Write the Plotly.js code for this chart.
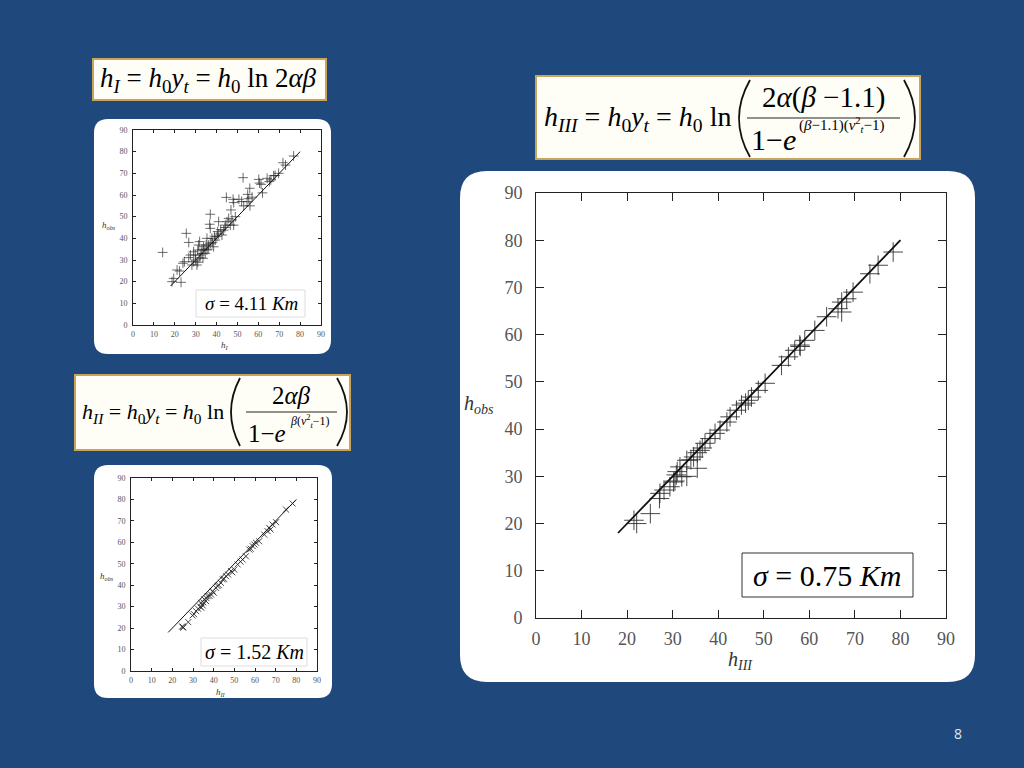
<!DOCTYPE html>
<html><head><meta charset="utf-8">
<script src="https://cdn.plot.ly/plotly-3.0.1.min.js"></script>
<style>html,body{margin:0;padding:0;background:#1F497D;overflow:hidden}#chart{width:1024px;height:768px}</style>
</head><body><div id="chart"></div>
<script>
// ---- data: model I (h_I vs h_obs) ----
const hI_x = [14.2,18.7,19.5,21.1,22.3,23.0,23.9,24.6,25.5,26.7,26.7,27.5,28.2,29.0,29.0,29.8,30.6,31.0,31.4,31.9,32.2,33.0,33.5,33.8,34.6,35.4,36.2,35.4,37.0,36.7,37.0,37.0,37.8,38.6,39.4,40.2,40.5,41.0,42.6,43.4,44.2,44.7,45.0,45.8,46.6,46.9,47.4,47.9,48.2,48.2,49.0,50.7,52.7,54.6,54.9,55.4,55.9,56.0,60.2,60.6,61.3,62.0,64.2,65.3,67.3,69.7,71.8,73.0,76.9,30.0,31.0,32.0,33.0,34.0,35.0,36.0,38.0,39.0,41.0,42.0,44.0,52.0,53.0,57.0,66.0,68.0];
const hI_obs = [33.5,20.0,21.5,25.4,24.9,19.7,28.5,29.2,42.3,38.1,31.1,32.3,27.7,29.2,33.8,32.3,27.7,34.6,36.9,38.5,32.3,34.6,30.8,36.1,33.1,34.6,36.9,40.0,37.7,46.5,44.6,51.1,40.0,36.1,39.2,40.8,43.1,47.7,41.5,43.8,46.1,58.9,47.7,49.2,46.1,53.1,48.5,58.0,56.5,46.1,50.0,58.0,68.0,56.9,60.3,58.3,63.1,55.0,67.2,65.5,64.9,61.0,67.7,66.2,68.9,70.0,74.9,73.8,78.0,30.0,29.0,31.0,33.0,35.0,37.0,35.0,38.0,41.0,42.0,44.0,45.0,57.0,55.0,59.0,67.0,69.0];
// ---- data: model II ----
const hII_x = [25.0,25.3,24.8,27.7,29.8,30.5,31.5,32.5,33.5,34.7,34.0,33.9,35.0,35.5,36.3,37.1,36.5,38.0,38.7,39.5,40.0,41.1,41.9,42.5,43.5,44.4,45.0,46.0,47.0,48.4,49.0,50.0,51.6,53.0,54.0,55.6,57.3,58.0,58.9,59.7,60.5,62.0,64.5,66.1,66.9,67.5,68.5,70.2,75.0,78.2];
const hII_obs = [20.5,20.2,20.8,22.8,25.9,26.5,27.9,29.0,30.0,30.6,29.5,31.8,32.0,33.4,32.6,34.9,34.0,35.0,35.7,37.2,36.5,38.8,39.6,40.0,41.1,42.7,43.0,44.2,45.0,46.6,46.0,47.3,49.7,51.0,52.0,53.5,56.6,57.0,58.2,59.0,59.8,60.5,63.6,65.2,66.7,66.0,68.3,69.4,75.3,78.1];
// ---- data: model III ----
const hIII_x = [22.1,21.5,25.1,27.1,27.2,28.1,29.4,30.2,30.8,32.0,33.1,35.4,31.6,33.1,34.6,35.4,36.0,37.1,38.2,39.3,40.4,41.9,42.6,44.0,45.1,46.6,47.3,48.8,50.3,53.9,55.4,56.8,57.9,59.0,61.2,63.8,66.3,67.1,67.1,68.2,69.6,73.3,75.1,78.4,30.5,31.0,34.0,36.5,46.0,58.0];
const hIII_obs = [20.0,20.7,22.1,25.3,26.4,27.1,27.8,28.8,30.3,29.9,30.0,31.7,32.0,33.4,34.1,35.0,35.5,37.0,38.0,39.1,39.8,41.5,42.6,44.0,45.1,46.1,46.8,48.2,49.7,53.5,55.3,56.7,57.8,58.8,60.9,63.8,65.5,64.8,66.9,67.6,69.0,72.9,74.7,77.5,29.0,31.0,33.5,36.0,45.5,57.5];
// ---- reference line ----
const lineX = [18, 80];
const lineY = [18, 80];
const tickVals = [0,10,20,30,40,50,60,70,80,90];

const W = 1024, H = 768;
const fx = x => x / W, fy = y => 1 - y / H;
const P = (x, y) => fx(x).toFixed(5) + ',' + fy(y).toFixed(5);
function rrect(x0, y0, x1, y1, r) {
  return 'M' + P(x0 + r, y0) + ' L' + P(x1 - r, y0) + ' Q' + P(x1, y0) + ' ' + P(x1, y0 + r) +
    ' L' + P(x1, y1 - r) + ' Q' + P(x1, y1) + ' ' + P(x1 - r, y1) +
    ' L' + P(x0 + r, y1) + ' Q' + P(x0, y1) + ' ' + P(x0, y1 - r) +
    ' L' + P(x0, y0 + r) + ' Q' + P(x0, y0) + ' ' + P(x0 + r, y0) + ' Z';
}
const serif = 'Liberation Serif, Times New Roman, serif';

function axis(d0, d1, isX, fontSize, tlen, anchor, standoff) {
  const dom = isX ? [fx(d0), fx(d1)] : [fy(d1), fy(d0)];
  return {
    domain: dom, range: [0, 90], tickvals: tickVals, ticktext: tickVals.map(String),
    ticks: 'inside', ticklen: tlen, tickwidth: 1, tickcolor: '#222',
    showline: true, linecolor: '#222', linewidth: 1, mirror: 'ticks',
    showgrid: false, zeroline: false, fixedrange: true, anchor: anchor,
    ticklabelstandoff: standoff,
    tickfont: { family: serif, size: fontSize, color: '#555' }
  };
}

const mk = (sym, size, w) => ({ symbol: sym, size: size, color: 'rgba(40,40,40,0.85)', line: { width: w, color: 'rgba(40,40,40,0.85)' } });
const traces = [
  { x: hI_x, y: hI_obs, xaxis: 'x', yaxis: 'y', type: 'scatter', mode: 'markers', marker: mk('cross-thin', 7, 0.8) },
  { x: lineX, y: lineY, xaxis: 'x', yaxis: 'y', type: 'scatter', mode: 'lines', line: { color: '#111', width: 1 } },
  { x: hII_x, y: hII_obs, xaxis: 'x2', yaxis: 'y2', type: 'scatter', mode: 'markers', marker: mk('x-thin', 6, 1) },
  { x: lineX, y: lineY, xaxis: 'x2', yaxis: 'y2', type: 'scatter', mode: 'lines', line: { color: '#111', width: 1 } },
  { x: hIII_x, y: hIII_obs, xaxis: 'x3', yaxis: 'y3', type: 'scatter', mode: 'markers', marker: mk('cross-thin', 14, 1) },
  { x: lineX, y: lineY, xaxis: 'x3', yaxis: 'y3', type: 'scatter', mode: 'lines', line: { color: '#111', width: 1.8 } }
];

const shapes = [];
const paperShape = o => Object.assign({ xref: 'paper', yref: 'paper' }, o);
// white panels
shapes.push(paperShape({ type: 'path', path: rrect(94, 119, 331, 354, 14), fillcolor: '#ffffff', line: { width: 0 }, layer: 'below' }));
shapes.push(paperShape({ type: 'path', path: rrect(94, 465, 332, 698, 14), fillcolor: '#ffffff', line: { width: 0 }, layer: 'below' }));
shapes.push(paperShape({ type: 'path', path: rrect(460, 171, 975, 682, 27), fillcolor: '#ffffff', line: { width: 0 }, layer: 'below' }));
// formula boxes
const boxStyle = { fillcolor: '#fffef6', line: { color: '#c9a45a', width: 2 }, layer: 'below' };
shapes.push(paperShape(Object.assign({ type: 'rect', x0: fx(93), x1: fx(326), y0: fy(59), y1: fy(100) }, boxStyle)));
shapes.push(paperShape(Object.assign({ type: 'rect', x0: fx(536), x1: fx(920), y0: fy(76), y1: fy(159) }, boxStyle)));
shapes.push(paperShape(Object.assign({ type: 'rect', x0: fx(75), x1: fx(350), y0: fy(375), y1: fy(450) }, boxStyle)));
// fraction bars
shapes.push(paperShape({ type: 'line', x0: fx(747), x1: fx(900), y0: fy(118), y1: fy(118), line: { color: '#222', width: 1 } }));
shapes.push(paperShape({ type: 'line', x0: fx(246), x1: fx(337), y0: fy(412), y1: fy(412), line: { color: '#222', width: 1 } }));
// big parentheses
const paren = (xe, xb, y0, y1) => paperShape({ type: 'path', path: 'M' + P(xe, y0) + ' Q' + P(xb, (y0 + y1) / 2) + ' ' + P(xe, y1), line: { color: '#111', width: 1.8 } });
shapes.push(paren(750, 728, 80, 157));
shapes.push(paren(904, 926, 80, 157));
shapes.push(paren(240, 222, 378, 446));
shapes.push(paren(337, 357, 378, 446));
// sigma boxes
shapes.push(paperShape({ type: 'rect', x0: fx(196), x1: fx(305), y0: fy(290), y1: fy(317), fillcolor: '#ffffff', line: { color: '#dddddd', width: 1 } }));
shapes.push(paperShape({ type: 'rect', x0: fx(201), x1: fx(307), y0: fy(638), y1: fy(666), fillcolor: '#ffffff', line: { color: '#dddddd', width: 1 } }));
shapes.push(paperShape({ type: 'rect', x0: fx(742), x1: fx(913), y0: fy(553), y1: fy(597), fillcolor: '#ffffff', line: { color: '#333333', width: 1 } }));

const ann = [];
const A = (x, y, text, size, o) => ann.push(Object.assign({ xref: 'paper', yref: 'paper', x: fx(x), y: fy(y), text: text, showarrow: false, xanchor: 'center', yanchor: 'middle', font: { family: serif, size: size, color: '#000' } }, o || {}));
// formula I
A(98, 80, '<i>h</i><sub><i>I</i></sub> = <i>h</i><sub>0</sub><i>y</i><sub><i>t</i></sub> = <i>h</i><sub>0</sub> ln 2<i>αβ</i>', 27, { xanchor: 'left' });
// formula III
A(542, 119, '<i>h</i><sub><i>III</i></sub> = <i>h</i><sub>0</sub><i>y</i><sub><i>t</i></sub> = <i>h</i><sub>0</sub> ln', 28, { xanchor: 'left' });
A(823, 97, '2<i>α</i>(<i>β</i> −1.1)', 29);
A(749, 140, '1−<i>e</i>', 30, { xanchor: 'left' });
A(797, 125, '(<i>β</i>−1.1)(<i>v</i><sup>2</sup><sub><i>t</i></sub>−1)', 15, { xanchor: 'left' });
// formula II
A(80, 413, '<i>h</i><sub><i>II</i></sub> = <i>h</i><sub>0</sub><i>y</i><sub><i>t</i></sub> = <i>h</i><sub>0</sub> ln', 22, { xanchor: 'left' });
A(291, 395, '2<i>αβ</i>', 25);
A(246, 433, '1−<i>e</i>', 25, { xanchor: 'left' });
A(288, 421, '<i>β</i>(<i>v</i><sup>2</sup><sub><i>t</i></sub>−1)', 12, { xanchor: 'left' });
// sigma labels
A(251, 304, '<i>σ</i> = 4.11 <i>Km</i>', 19);
A(254, 652, '<i>σ</i> = 1.52 <i>Km</i>', 20);
A(827, 575, '<i>σ</i> = 0.75 <i>Km</i>', 30);
// axis labels
A(109, 226, '<i>h</i><sub><i>obs</i></sub>', 9, { font: { family: serif, size: 9, color: '#333' } });
A(225, 345, '<i>h</i><sub><i>I</i></sub>', 9, { font: { family: serif, size: 9, color: '#333' } });
A(107, 576, '<i>h</i><sub><i>obs</i></sub>', 9, { font: { family: serif, size: 9, color: '#333' } });
A(221, 692, '<i>h</i><sub><i>II</i></sub>', 9, { font: { family: serif, size: 9, color: '#333' } });
A(479, 404, '<i>h</i><sub><i>obs</i></sub>', 20, { font: { family: serif, size: 20, color: '#333' } });
A(740, 660, '<i>h</i><sub><i>III</i></sub>', 20, { font: { family: serif, size: 20, color: '#333' } });
// page number
A(958, 733, '8', 14, { font: { family: 'Open Sans, sans-serif', size: 14, color: '#dfe6f0' } });

const layout = {
  width: W, height: H, margin: { l: 0, r: 0, t: 0, b: 0 },
  paper_bgcolor: '#1F497D', plot_bgcolor: 'rgba(0,0,0,0)', showlegend: false,
  xaxis: axis(133, 321, true, 8, 3, 'y', 1),
  yaxis: axis(130, 325, false, 8, 3, 'x', 3),
  xaxis2: axis(131, 317, true, 8, 3, 'y2', 1),
  yaxis2: axis(478, 671, false, 8, 3, 'x2', 3),
  xaxis3: axis(536, 946, true, 18, 8, 'y3', 4),
  yaxis3: axis(193, 618, false, 18, 8, 'x3', 9),
  shapes: shapes, annotations: ann
};
Plotly.newPlot('chart', traces, layout, { staticPlot: true, displayModeBar: false });
</script></body></html>
